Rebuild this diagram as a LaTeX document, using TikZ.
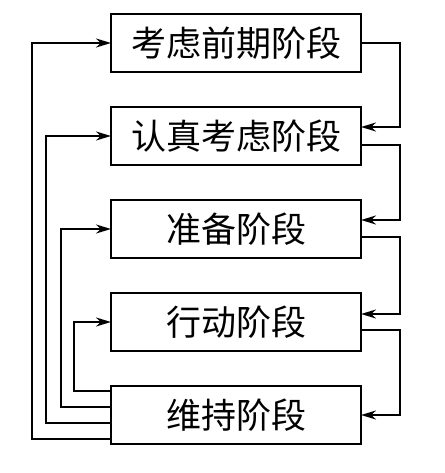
\documentclass[tikz,border=0pt]{standalone}
\usepackage{fontspec}
\newfontfamily\cjk{Noto Sans CJK SC}
\usepackage{tikz}
\usetikzlibrary{arrows.meta,positioning}

\begin{document}
\begin{tikzpicture}[
  x=1pt, y=-1pt,
  font=\cjk\fontsize{35}{38}\selectfont,
  stage/.style={draw=black, line width=2.8pt, minimum width=250pt,
    minimum height=58pt, inner sep=0pt, outer sep=0pt, align=center},
  flow/.style={-{Stealth[length=15pt, width=9pt]}, line width=2.2pt, draw=black}
]
\useasboundingbox (0,0) rectangle (444,473);

\node[stage] (precont) at (236,43) {考虑前期阶段};
\node[stage, below=35pt of precont] (contemp) {认真考虑阶段};
\node[stage, below=35pt of contemp] (prep) {准备阶段};
\node[stage, below=35pt of prep] (action) {行动阶段};
\node[stage, below=35pt of action] (maint) {维持阶段};

% forward steps, right side
\draw[flow] (precont.east) -- ++(39pt,0) |- ([yshift=9pt]contemp.east);
\draw[flow] ([yshift=-9pt]contemp.east) -- ++(39pt,0) |- ([yshift=9pt]prep.east);
\draw[flow] ([yshift=-8pt]prep.east) -- ++(39pt,0) |- ([yshift=8pt]action.east);
\draw[flow] ([yshift=-8pt]action.east) -- ++(39pt,0) |- (maint.east);

% relapse, left side
\draw[flow] ([yshift=24pt]maint.west) -- ++(-37pt,0) |- (action.west);
\draw[flow] ([yshift=8pt]maint.west) -- ++(-50pt,0) |- (prep.west);
\draw[flow] ([yshift=-8pt]maint.west) -- ++(-65pt,0) |- (contemp.west);
\draw[flow] ([yshift=-24pt]maint.west) -- ++(-79pt,0) |- (precont.west);
\end{tikzpicture}
\end{document}
